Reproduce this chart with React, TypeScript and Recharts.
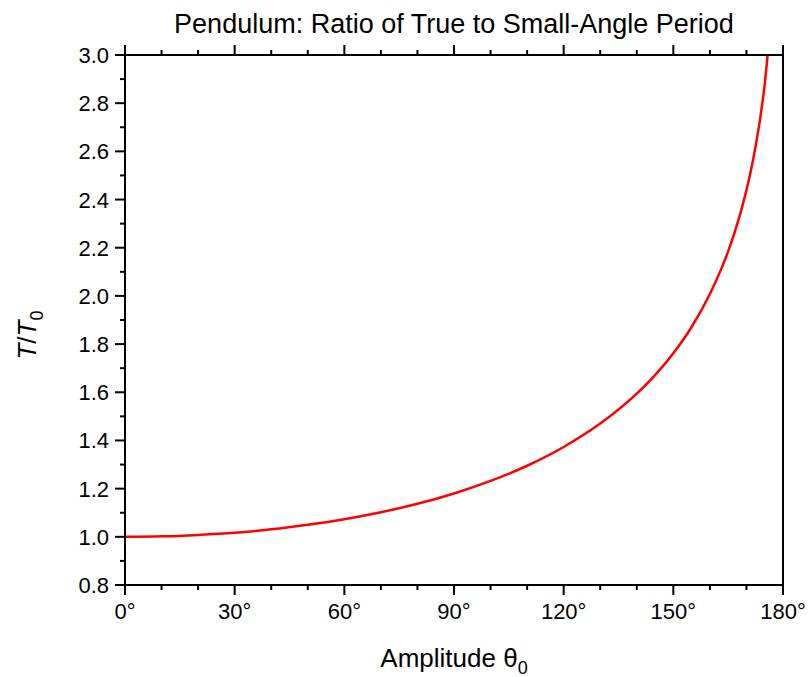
import { LineChart, Line, XAxis, YAxis, Label } from 'recharts';

// amplitude in degrees and the period ratio T/T0 at that amplitude
const angles = [0, 10, 20, 30, 40, 50, 60, 70, 80, 90, 100, 110, 120, 130, 140, 145, 150, 155, 160, 163, 165, 168, 170, 172, 174, 175, 175.8];
const ratios = [1.0, 1.002, 1.008, 1.017, 1.031, 1.05, 1.073, 1.102, 1.137, 1.18, 1.232, 1.295, 1.373, 1.47, 1.594, 1.671, 1.762, 1.871, 2.008, 2.108, 2.185, 2.325, 2.439, 2.58, 2.762, 2.878, 3.0];

const xTicks = [0, 10, 20, 30, 40, 50, 60, 70, 80, 90, 100, 110, 120, 130, 140, 150, 160, 170, 180];
const yTicks = [0.8, 0.9, 1.0, 1.1, 1.2, 1.3, 1.4, 1.5, 1.6, 1.7, 1.8, 1.9, 2.0, 2.1, 2.2, 2.3, 2.4, 2.5, 2.6, 2.7, 2.8, 2.9, 3.0];

const data = angles.map((a, i) => ({ angle: a, ratio: ratios[i] }));

const FONT = '"Liberation Sans", Arial, Helvetica, sans-serif';
const MAJOR = 10;
const MINOR = 5;

const isMajorX = (v: number) => v % 30 === 0;
const isMajorY = (v: number) => Math.round(v * 10) % 2 === 0;

function BottomTick({ x, y, payload }: any) {
  const major = isMajorX(payload.value);
  return (
    <g>
      <line x1={x} x2={x} y1={y} y2={y + (major ? MAJOR : MINOR)} stroke="#000" strokeWidth={2} />
      {major && (
        <text x={x} y={y + 34} textAnchor="middle" fontSize={22} fontFamily={FONT} fill="#000">
          {payload.value}°
        </text>
      )}
    </g>
  );
}

function TopTick({ x, y, payload }: any) {
  const major = isMajorX(payload.value);
  return <line x1={x} x2={x} y1={y} y2={y - (major ? MAJOR : MINOR)} stroke="#000" strokeWidth={2} />;
}

function LeftTick({ x, y, payload }: any) {
  const major = isMajorY(payload.value);
  return (
    <g>
      <line x1={x - (major ? MAJOR : MINOR)} x2={x} y1={y} y2={y} stroke="#000" strokeWidth={2} />
      {major && (
        <text x={x - 16} y={y + 8} textAnchor="end" fontSize={22} fontFamily={FONT} fill="#000">
          {payload.value.toFixed(1)}
        </text>
      )}
    </g>
  );
}

function RightTick({ x, y, payload }: any) {
  const major = isMajorY(payload.value);
  return <line x1={x} x2={x + (major ? MAJOR : MINOR)} y1={y} y2={y} stroke="#000" strokeWidth={2} />;
}

const axisLine = { stroke: '#000', strokeWidth: 2 };

export default function App() {
  return (
    <div style={{ position: 'absolute', left: 0, top: 0, background: '#fff' }}>
      <LineChart width={809} height={677} data={data} margin={{ top: 45, right: 16, bottom: 32, left: 0 }}>
        <XAxis
          xAxisId="bottom"
          dataKey="angle"
          type="number"
          domain={[0, 180]}
          ticks={xTicks}
          interval={0}
          height={60}
          tickSize={0}
          tickMargin={0}
          tickLine={false}
          axisLine={axisLine}
          tick={<BottomTick />}
        >
          <Label
            content={({ viewBox }: any) => (
              <text
                x={viewBox.x + viewBox.width / 2}
                y={667}
                textAnchor="middle"
                fontSize={26}
                fontFamily={FONT}
                fill="#000"
              >
                Amplitude θ
                <tspan fontSize={18} dy={7}>0</tspan>
              </text>
            )}
          />
        </XAxis>
        <XAxis
          xAxisId="top"
          orientation="top"
          dataKey="angle"
          type="number"
          domain={[0, 180]}
          ticks={xTicks}
          interval={0}
          height={10}
          tickSize={0}
          tickMargin={0}
          tickLine={false}
          axisLine={axisLine}
          tick={<TopTick />}
        >
          <Label
            content={({ viewBox }: any) => (
              <text
                x={viewBox.x + viewBox.width / 2}
                y={33}
                textAnchor="middle"
                fontSize={27}
                fontFamily={FONT}
                fill="#000"
              >
                Pendulum: Ratio of True to Small-Angle Period
              </text>
            )}
          />
        </XAxis>
        <YAxis
          yAxisId="left"
          type="number"
          domain={[0.8, 3.0]}
          allowDataOverflow
          ticks={yTicks}
          interval={0}
          width={125}
          tickSize={0}
          tickMargin={0}
          tickLine={false}
          axisLine={axisLine}
          tick={<LeftTick />}
        >
          <Label
            content={({ viewBox }: any) => {
              const cy = viewBox.y + viewBox.height / 2 + 15;
              return (
                <text
                  x={36}
                  y={cy}
                  transform={`rotate(-90, 36, ${cy})`}
                  textAnchor="middle"
                  fontSize={26}
                  fontFamily={FONT}
                  fill="#000"
                >
                  <tspan fontStyle="italic">T</tspan>/<tspan fontStyle="italic">T</tspan>
                  <tspan fontSize={18} dy={7}>0</tspan>
                </text>
              );
            }}
          />
        </YAxis>
        <YAxis
          yAxisId="right"
          orientation="right"
          type="number"
          domain={[0.8, 3.0]}
          ticks={yTicks}
          interval={0}
          width={10}
          tickSize={0}
          tickMargin={0}
          tickLine={false}
          axisLine={axisLine}
          tick={<RightTick />}
        />
        <Line
          xAxisId="bottom"
          yAxisId="left"
          type="monotone"
          dataKey="ratio"
          stroke="#ff0000"
          strokeWidth={2.5}
          dot={false}
          isAnimationActive={false}
        />
      </LineChart>
    </div>
  );
}
